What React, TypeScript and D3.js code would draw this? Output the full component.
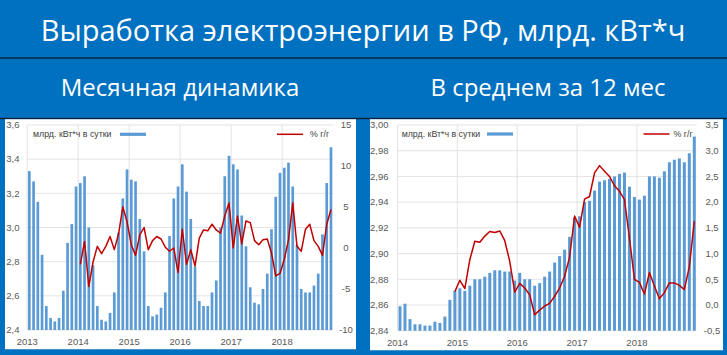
import * as d3 from 'd3';

// Месячная динамика: Jan 2013 – Dec 2018, млрд. кВт*ч в сутки
const monthlyYears = ['2013', '2014', '2015', '2016', '2017', '2018'];
const monthlyOutput = [
  3.33, 3.27, 3.15, 2.84, 2.54, 2.47, 2.45, 2.47, 2.63, 2.91, 3.02, 3.24,
  3.26, 3.30, 3.00, 2.78, 2.54, 2.46, 2.45, 2.50, 2.62, 2.97, 3.17, 3.34,
  3.28, 3.27, 3.05, 2.86, 2.54, 2.48, 2.49, 2.53, 2.62, 2.95, 3.17, 3.24,
  3.37, 3.21, 3.05, 2.77, 2.57, 2.54, 2.54, 2.62, 2.69, 3.00, 3.30, 3.42,
  3.37, 3.34, 3.07, 2.89, 2.65, 2.56, 2.55, 2.64, 2.73, 2.99, 3.18, 3.32,
  3.35, 3.38, 3.24, 2.90, 2.64, 2.62, 2.62, 2.66, 2.73, 2.96, 3.26, 3.47,
];
// % г/г, from Jan 2014
const monthlyYoYStart = '2014-01';
const monthlyYoY = [
  -2.0, 0.8, -4.7, -1.7, 0.2, -0.7, 0.2, 1.4, -0.2, 1.7, 5.0, 3.2,
  0.4, -0.9, 1.6, 2.5, -0.2, 0.9, 1.4, 1.1, 0.1, -0.4, 0.0, -3.0,
  2.3, -2.0, -0.2, -2.2, 1.2, 2.2, 2.1, 2.9, 2.2, 1.8, 3.9, 5.5,
  0.0, 3.9, 0.5, 3.3, 3.1, 0.9, 0.4, 1.0, 1.1, -0.6, -3.4, -3.1,
  -1.4, 1.0, 5.5, 0.2, -0.4, 2.3, 2.9, 0.9, 0.2, -0.9, 2.9, 4.7,
];

// В среднем за 12 мес: Jan 2014 – Dec 2018
const avgYears = ['2014', '2015', '2016', '2017', '2018'];
const avgOutput = [
  2.859, 2.861, 2.849, 2.845, 2.845, 2.844, 2.844, 2.847, 2.846, 2.851, 2.864, 2.871,
  2.873, 2.871, 2.875, 2.880, 2.880, 2.882, 2.885, 2.887, 2.887, 2.886, 2.886, 2.879,
  2.885, 2.880, 2.880, 2.875, 2.877, 2.882, 2.886, 2.893, 2.898, 2.903, 2.913, 2.928,
  2.929, 2.940, 2.941, 2.949, 2.956, 2.957, 2.958, 2.960, 2.962, 2.963, 2.952, 2.944,
  2.942, 2.945, 2.960, 2.960, 2.959, 2.964, 2.971, 2.973, 2.974, 2.971, 2.978, 2.991,
];
// % г/г, from Dec 2014
const avgYoYStart = '2014-12';
const avgYoY = [
  0.26,
  0.48, 0.32, 0.88, 1.24, 1.22, 1.34, 1.43, 1.41, 1.44, 1.25, 0.85, 0.25,
  0.42, 0.33, 0.20, -0.19, -0.10, -0.02, 0.03, 0.17, 0.33, 0.56, 0.93, 1.73,
  1.51, 2.06, 2.11, 2.57, 2.71, 2.60, 2.50, 2.32, 2.21, 2.05, 1.30, 0.50,
  0.44, 0.21, 0.63, 0.37, 0.12, 0.24, 0.43, 0.43, 0.38, 0.30, 0.74, 1.63,
];

const monthlyBarTicks = [2.4, 2.6, 2.8, 3.0, 3.2, 3.4, 3.6];
const monthlyLineTicks = [-10, -5, 0, 5, 10, 15];
const avgBarTicks = [2.84, 2.86, 2.88, 2.9, 2.92, 2.94, 2.96, 2.98, 3.0];
const avgLineTicks = [-0.5, 0, 0.5, 1, 1.5, 2, 2.5, 3, 3.5];

const title = 'Выработка электроэнергии в РФ, млрд. кВт*ч';
const subLeft = 'Месячная динамика';
const subRight = 'В среднем за 12 мес';
const barLabel = 'млрд. кВт*ч в сутки';
const lineLabel = '% г/г';

const BG = '#0070c0';
const BAR = '#5b9bd5';
const LINE = '#c00000';
const GRID = '#d9d9d9';
const TICK = '#595959';
const SMALL = '"Liberation Sans", Arial, sans-serif';
const BIG = '"Open Sans", "Noto Sans", sans-serif';

const monthsOf = (years: string[]) =>
  years.flatMap(y => d3.range(1, 13).map(m => `${y}-${String(m).padStart(2, '0')}`));
const comma = (d: number, digits: number) => d.toFixed(digits).replace('.', ',');

interface PanelProps {
  box: { x: number; y: number; w: number; h: number };
  plot: { x0: number; x1: number; y0: number; y1: number };
  years: string[];
  output: number[];
  yoy: number[];
  yoyStart: string;
  barTicks: number[];
  barDigits: number;
  lineTicks: number[];
  lineDigits: number;
  leftLabelX: number;
  rightLabelX: number;
  pad: number;
  legend: { text: number; swatch: number; lineSwatch: number; lineText: number; y: number };
}

function Panel(p: PanelProps) {
  const months = monthsOf(p.years);
  const x = d3.scaleBand<string>()
    .domain(months)
    .range([p.plot.x0, p.plot.x1])
    .paddingInner(p.pad)
    .paddingOuter(p.pad / 2);
  const step = x.step();
  const yBar = d3.scaleLinear()
    .domain([p.barTicks[0], p.barTicks[p.barTicks.length - 1]])
    .range([p.plot.y1, p.plot.y0]);
  const yLine = d3.scaleLinear()
    .domain([p.lineTicks[0], p.lineTicks[p.lineTicks.length - 1]])
    .range([p.plot.y1, p.plot.y0]);

  const startIdx = months.indexOf(p.yoyStart);
  const linePts = p.yoy.map((v, i) => ({ m: months[startIdx + i], v }));
  const path = d3.line<{ m: string; v: number }>()
    .x(d => (x(d.m) ?? 0) + x.bandwidth() / 2)
    .y(d => yLine(d.v))(linePts) || '';

  const yearTicks = p.years.map(y => ({ label: y, pos: (x(`${y}-01`) ?? 0) - step * p.pad / 2 }));

  return (
    <g>
      <rect x={p.box.x} y={p.box.y} width={p.box.w} height={p.box.h} fill="#fff" />
      {/* gridlines */}
      {p.barTicks.map((t, i) => (
        <line key={'h' + i} x1={p.plot.x0} x2={p.plot.x1} y1={yBar(t)} y2={yBar(t)} stroke={GRID} strokeWidth={0.75} />
      ))}
      {yearTicks.map((t, i) => (
        <line key={'v' + i} x1={t.pos} x2={t.pos} y1={p.plot.y0} y2={p.plot.y1} stroke={GRID} strokeWidth={0.75} />
      ))}
      {/* bars */}
      {p.output.map((v, i) => (
        <rect
          key={i}
          x={x(months[i])}
          y={yBar(v)}
          width={x.bandwidth()}
          height={p.plot.y1 - yBar(v)}
          fill={BAR}
        />
      ))}
      <path d={path} fill="none" stroke={LINE} strokeWidth={1.5} strokeLinejoin="round" />
      {/* left axis */}
      {p.barTicks.map((t, i) => (
        <text key={'l' + i} x={p.leftLabelX} y={yBar(t)} dy="0.35em" textAnchor="end"
          fontSize={9.5} fontFamily={SMALL} fill={TICK}>{comma(t, p.barDigits)}</text>
      ))}
      {/* right axis */}
      {p.lineTicks.map((t, i) => (
        <text key={'r' + i} x={p.rightLabelX} y={yLine(t)} dy="0.35em" textAnchor="middle"
          fontSize={9.5} fontFamily={SMALL} fill={TICK}>{comma(t, p.lineDigits)}</text>
      ))}
      {/* x axis */}
      {yearTicks.map((t, i) => (
        <text key={'x' + i} x={t.pos} y={p.plot.y1 + 12} dy="0.35em" textAnchor="middle"
          fontSize={9.5} fontFamily={SMALL} fill={TICK}>{t.label}</text>
      ))}
      {/* legend */}
      <text x={p.legend.text} y={p.legend.y} dy="0.35em" fontSize={8.8} fontFamily={SMALL} fill="#404040">{barLabel}</text>
      <rect x={p.legend.swatch} y={p.legend.y - 1.6} width={26} height={3.2} fill={BAR} />
      <line x1={p.legend.lineSwatch} x2={p.legend.lineSwatch + 26} y1={p.legend.y} y2={p.legend.y} stroke={LINE} strokeWidth={1.5} />
      <text x={p.legend.lineText} y={p.legend.y} dy="0.35em" fontSize={8.8} fontFamily={SMALL} fill="#404040">{lineLabel}</text>
    </g>
  );
}

export default function App() {
  const W = 727;
  const H = 355;
  return (
    <svg width={W} height={H} style={{ position: 'absolute', left: 0, top: 0, display: 'block' }}>
      <rect x={0} y={0} width={W} height={H} fill={BG} />
      <text x={363} y={31} dy="0.35em" textAnchor="middle" fontSize={29} fontFamily={BIG} fill="#fff">{title}</text>
      <line x1={0} x2={W} y1={58} y2={58} stroke="#10243f" strokeWidth={1.5} />
      <text x={180} y={88} dy="0.35em" textAnchor="middle" fontSize={24} fontFamily={BIG} fill="#fff">{subLeft}</text>
      <text x={548} y={88} dy="0.35em" textAnchor="middle" fontSize={24} fontFamily={BIG} fill="#fff">{subRight}</text>
      <line x1={0} x2={W} y1={118.5} y2={118.5} stroke="#10243f" strokeWidth={1.5} />
      <Panel
        box={{ x: 5, y: 119.25, w: 351, h: 230 }}
        plot={{ x0: 27.2, x1: 333.1, y0: 125, y1: 330 }}
        years={monthlyYears}
        output={monthlyOutput}
        yoy={monthlyYoY}
        yoyStart={monthlyYoYStart}
        barTicks={monthlyBarTicks}
        barDigits={1}
        lineTicks={monthlyLineTicks}
        lineDigits={0}
        leftLabelX={19.5}
        rightLabelX={346}
        pad={0.37}
        legend={{ text: 33, swatch: 120, lineSwatch: 277, lineText: 310, y: 134.3 }}
      />
      <Panel
        box={{ x: 370, y: 119.25, w: 353, h: 231 }}
        plot={{ x0: 397.5, x1: 696.8, y0: 125, y1: 330.7 }}
        years={avgYears}
        output={avgOutput}
        yoy={avgYoY}
        yoyStart={avgYoYStart}
        barTicks={avgBarTicks}
        barDigits={2}
        lineTicks={avgLineTicks}
        lineDigits={1}
        leftLabelX={388.5}
        rightLabelX={712}
        pad={0.4}
        legend={{ text: 401.7, swatch: 487, lineSwatch: 643.5, lineText: 673.5, y: 134 }}
      />
    </svg>
  );
}
